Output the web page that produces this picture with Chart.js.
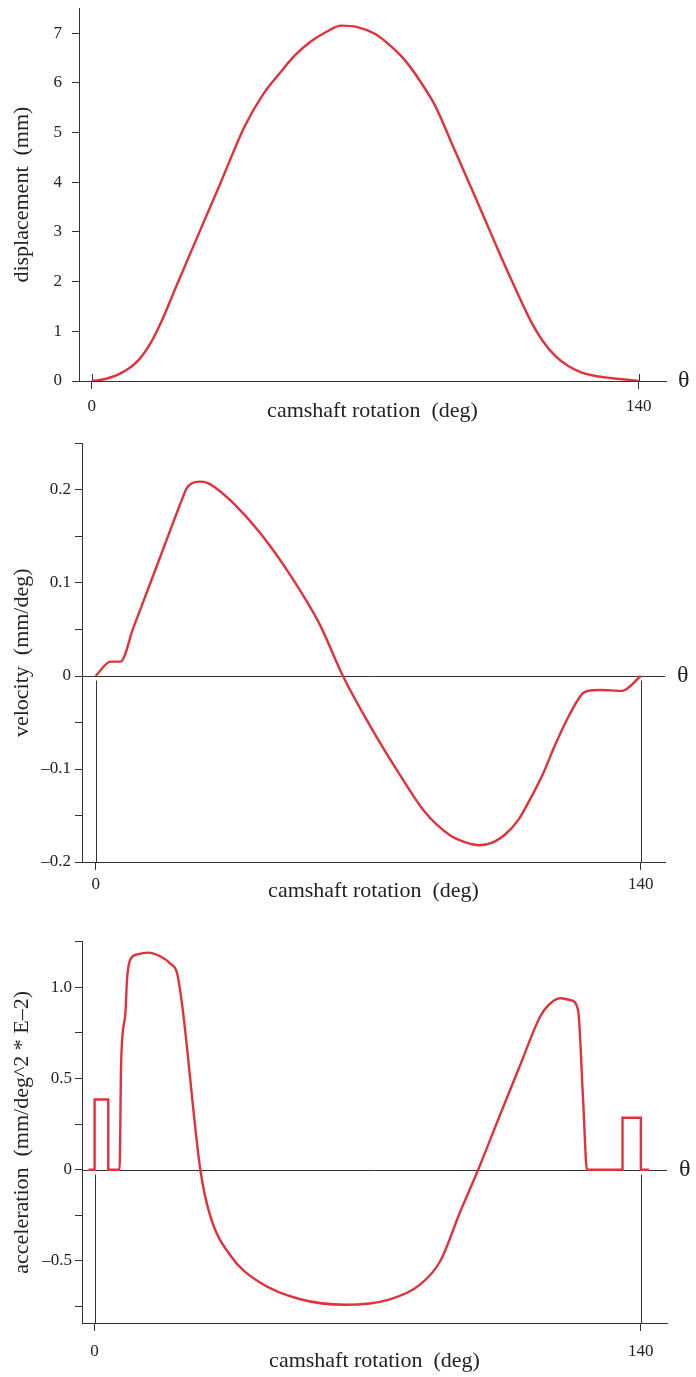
<!DOCTYPE html>
<html>
<head>
<meta charset="utf-8">
<script src="https://cdn.jsdelivr.net/npm/chart.js@4/dist/chart.umd.min.js"></script>
<style>
  html, body { margin: 0; padding: 0; background: #fff; }
  #page { position: relative; width: 696px; height: 1377px; overflow: hidden; }
  #page canvas { position: absolute; left: 0; }
</style>
</head>
<body>
<div id="page">
  <canvas id="disp" width="696" height="452" style="top:-12px"></canvas>
  <canvas id="vel" width="696" height="492" style="top:428px"></canvas>
  <canvas id="acc" width="696" height="457" style="top:920px"></canvas>
</div>
<script>
// ── Data ──────────────────────────────────────────────────
const xTicks = [0, 140];

// displacement (mm) vs camshaft rotation (deg)
const dispDeg = [0, 4, 8.5, 12, 15, 17.4, 22, 27.7, 33, 39.2, 44, 48.2, 52, 55.9, 60, 63.8, 68, 72.6, 76.5, 80.3, 84, 87.9, 92, 96.9, 100.5, 104.6, 108.5, 112.3, 115.5, 118.7, 122, 125.1, 129, 132.8, 136.5, 140];
const dispVal = [0, 0.05, 0.2, 0.42, 0.75, 1.12, 1.97, 3.02, 3.99, 5.13, 5.78, 6.2, 6.55, 6.82, 7.02, 7.15, 7.12, 6.98, 6.74, 6.44, 6.04, 5.54, 4.81, 3.93, 3.28, 2.53, 1.85, 1.22, 0.8, 0.5, 0.3, 0.18, 0.1, 0.06, 0.03, 0];
const dispTicks = [0, 1, 2, 3, 4, 5, 6, 7];
const dispTickLabels = ['0', '1', '2', '3', '4', '5', '6', '7'];

// velocity (mm/deg)
const velDeg = [0, 3.85, 6.4, 9.65, 14.8, 19.1, 22.1, 23.4, 24.6, 26.8, 28.5, 30.6, 35.8, 42.2, 49.9, 57.6, 63.5, 70.4, 78.1, 84.5, 90.9, 95, 98.6, 102, 105, 108.5, 111.5, 115, 118, 121.5, 125, 126.5, 129.5, 135.1, 140];
const velVal = [0, 0.0155, 0.0155, 0.0514, 0.1083, 0.156, 0.189, 0.202, 0.207, 0.209, 0.208, 0.203, 0.184, 0.154, 0.109, 0.055, 0, -0.053, -0.106, -0.146, -0.171, -0.179, -0.182, -0.179, -0.171, -0.155, -0.133, -0.104, -0.074, -0.043, -0.019, -0.016, -0.015, -0.016, 0];
const velTicks = [-0.2, -0.15, -0.1, -0.05, 0, 0.05, 0.1, 0.15, 0.2, 0.25];
const velTickLabels = ['–0.2', '', '–0.1', '', '0', '', '0.1', '', '0.2', ''];

// acceleration (mm/deg^2 * E-2)
const accDeg = [-1.6, 0, 0, 3.5, 3.5, 6.4, 6.8, 7.9, 8.3, 9.1, 10.9, 13.8, 16.8, 19.4, 21.1, 22.4, 27.1, 29.6, 34.8, 42.5, 52.7, 64.2, 75.7, 83.4, 88.6, 93.7, 98.3, 103.9, 109, 114.2, 116.2, 119.3, 121.9, 123.9, 125.2, 126.2, 135.3, 135.3, 140, 140, 142.1];
const accVal = [0, 0, 0.385, 0.385, 0, 0, 0.59, 0.86, 1.04, 1.15, 1.18, 1.19, 1.17, 1.13, 1.08, 0.91, 0, -0.25, -0.47, -0.62, -0.71, -0.74, -0.71, -0.63, -0.5, -0.23, 0, 0.3, 0.57, 0.84, 0.9, 0.94, 0.93, 0.876, 0.383, 0, 0, 0.285, 0.285, 0, 0];
const accTicks = [-0.75, -0.5, -0.25, 0, 0.25, 0.5, 0.75, 1.0, 1.25];
const accTickLabels = ['', '–0.5', '', '0', '', '0.5', '', '1.0', ''];

// ── Styling ──────────────────────────────────────────────
const serif = '"Liberation Serif", "Times New Roman", serif';
const axisColor = '#333333';
const textColor = '#222222';
const curveColor = '#e0323c';

/**
 * Draws the zero line, the guides at 0 and 140 deg and the θ marker.
 */
const camAxesPlugin = {
  id: 'camAxes',
  beforeDatasetsDraw(chart, args, opts) {
    const { ctx, chartArea, scales: { x, y } } = chart;
    const y0 = Math.round(y.getPixelForValue(0)) + 0.5;
    ctx.save();
    ctx.strokeStyle = axisColor;
    ctx.lineWidth = 1;
    ctx.beginPath();
    ctx.moveTo(chartArea.left, y0);
    ctx.lineTo(chartArea.right, y0);
    ctx.stroke();

    xTicks.forEach((v) => {
      const px = Math.round(x.getPixelForValue(v)) + 0.5;
      const top = opts.drop ? y0 + 4 : chartArea.bottom - 7;
      ctx.beginPath();
      ctx.moveTo(px, top);
      ctx.lineTo(px, chartArea.bottom);
      ctx.stroke();
    });

    ctx.fillStyle = textColor;
    ctx.font = '24px ' + serif;
    ctx.textBaseline = 'middle';
    ctx.textAlign = 'left';
    ctx.fillText('θ', chartArea.right + 12, y0 - 1);
    ctx.restore();
  },
};

/**
 * Builds one of the stacked cam profile charts.
 */
function createCamChart(id, cfg) {
  const canvas = document.getElementById(id);
  const points = cfg.deg.map((d, i) => ({ x: d, y: cfg.val[i] }));

  return new Chart(canvas.getContext('2d'), {
    type: 'line',
    data: {
      datasets: [{
        data: points,
        borderColor: curveColor,
        borderWidth: 2.4,
        pointRadius: 0,
        fill: false,
        cubicInterpolationMode: 'monotone',
      }],
    },
    plugins: [camAxesPlugin],
    options: {
      responsive: false,
      animation: false,
      events: [],
      layout: { padding: cfg.padding },
      plugins: {
        legend: { display: false },
        tooltip: { enabled: false },
        camAxes: { drop: cfg.drop },
      },
      scales: {
        x: {
          type: 'linear',
          min: cfg.xMin,
          max: cfg.xMax,
          afterFit: (s) => { s.height = cfg.xHeight; },
          afterBuildTicks: (s) => { s.ticks = xTicks.map((v) => ({ value: v })); },
          border: { display: true, color: axisColor, width: 1 },
          grid: { drawOnChartArea: false, drawTicks: true, tickLength: 8, color: axisColor },
          ticks: {
            autoSkip: false,
            maxRotation: 0,
            padding: cfg.xPad,
            color: textColor,
            font: { family: serif, size: 17 },
            callback: (v) => String(v),
          },
          title: {
            display: true,
            text: 'camshaft rotation  (deg)',
            color: textColor,
            font: { family: serif, size: 22 },
            padding: 0,
          },
        },
        y: {
          type: 'linear',
          min: cfg.yMin,
          max: cfg.yMax,
          afterFit: (s) => { s.width = cfg.yWidth; },
          afterBuildTicks: (s) => { s.ticks = cfg.yTicks.map((v) => ({ value: v })); },
          border: { display: true, color: axisColor, width: 1 },
          grid: { drawOnChartArea: false, drawTicks: true, tickLength: 7, color: axisColor },
          ticks: {
            autoSkip: false,
            padding: cfg.yPad,
            color: textColor,
            font: { family: serif, size: 17 },
            callback: (v, i) => cfg.yLabels[i],
          },
          title: {
            display: true,
            text: cfg.yTitle,
            color: textColor,
            font: { family: serif, size: 22 },
            padding: { top: 9, bottom: 0 },
          },
        },
      },
    },
  });
}

createCamChart('disp', {
  deg: dispDeg, val: dispVal,
  yTicks: dispTicks, yLabels: dispTickLabels,
  yTitle: 'displacement  (mm)',
  xMin: -3.25, xMax: 147.0, yMin: 0, yMax: 7.5,
  yWidth: 79, xHeight: 43, xPad: 7, yPad: 10, drop: false,
  padding: { top: 20, right: 30, bottom: 16, left: 0 },
});

createCamChart('vel', {
  deg: velDeg, val: velVal,
  yTicks: velTicks, yLabels: velTickLabels,
  yTitle: 'velocity  (mm/deg)',
  xMin: -3.5, xMax: 146.2, yMin: -0.2, yMax: 0.25,
  yWidth: 82, xHeight: 42, xPad: 4, yPad: 4, drop: true,
  padding: { top: 15.5, right: 31, bottom: 16, left: 0 },
});

createCamChart('acc', {
  deg: accDeg, val: accVal,
  yTicks: accTicks, yLabels: accTickLabels,
  yTitle: 'acceleration  (mm/deg^2 * E–2)',
  xMin: -3.23, xMax: 146.7, yMin: -0.84, yMax: 1.25,
  yWidth: 82, xHeight: 51, xPad: 10, yPad: 3, drop: true,
  padding: { top: 21.7, right: 29, bottom: 3, left: 0 },
});
</script>
</body>
</html>
